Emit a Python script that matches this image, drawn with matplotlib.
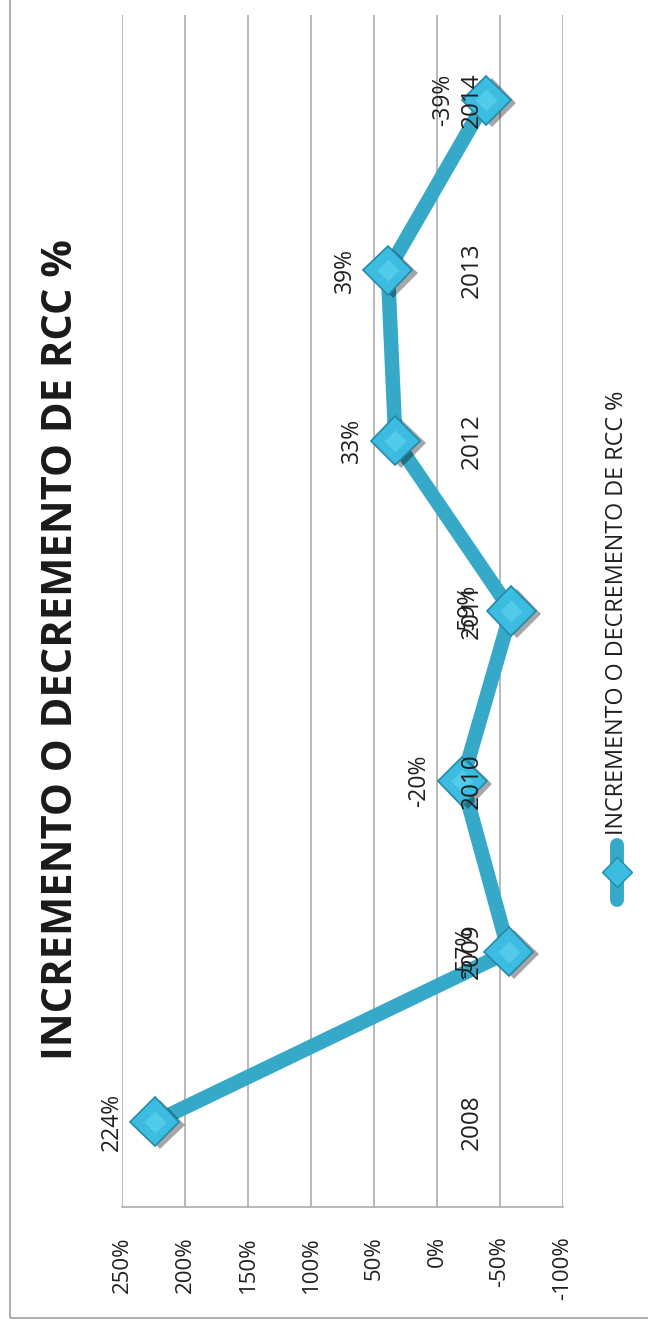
import matplotlib
matplotlib.use("Agg")
import matplotlib.pyplot as plt
import matplotlib.patheffects as pe
from matplotlib.patches import Rectangle
from matplotlib.lines import Line2D

# data
years = ['2008', '2009', '2010', '2011', '2012', '2013', '2014']
values = [224, -57, -20, -59, 33, 39, -39]
ticks = [250, 200, 150, 100, 50, 0, -50, -100]
title = 'INCREMENTO O DECREMENTO DE RCC %'
series_name = 'INCREMENTO O DECREMENTO DE RCC %'

plt.rcParams['font.family'] = ['Open Sans', 'DejaVu Sans']
W, H = 648, 1328
line_col = '#35A9C7'
face_col = '#3CBCE0'
edge_col = '#2589A8'
grid_col = '#A6A6A6'
txt_col = '#1f1f1f'

fig = plt.figure(figsize=(W / 100, H / 100), dpi=100)
fig.patch.set_facecolor('white')

# outer chart frame (runs off the top and right edge)
fig.add_artist(Rectangle((10 / W, (H - 1318) / H), 1, 1, transform=fig.transFigure,
                         fill=False, ec='#A0A0A0', lw=1.2))

# chart is drawn rotated: values along x (reversed), years along y
ax = fig.add_axes([122 / W, (H - 1207) / H, (563 - 122) / W, (1207 - 15) / H])
ypos = list(range(len(years)))
ax.set_xlim(250, -100)
ax.set_ylim(-0.5, len(years) - 0.5)
ax.set_xticks(ticks)
ax.set_xticklabels([f'{t}%' for t in ticks], rotation=90, va='top', fontsize=16, color=txt_col)
ax.tick_params(axis='x', length=0, pad=21)
ax.set_yticks([])
ax.grid(axis='x', color=grid_col, lw=1.1)
ax.set_axisbelow(True)
for s in ['left', 'right', 'top']:
    ax.spines[s].set_visible(False)
ax.spines['bottom'].set_color(grid_col)
ax.spines['bottom'].set_linewidth(1.1)

ax.plot(values, ypos, color=line_col, lw=10.5, solid_capstyle='round', zorder=3)
ax.plot(values, ypos, ls='none', marker='D', ms=25, mfc=face_col, mec=edge_col, mew=1.2, zorder=4,
        path_effects=[pe.SimplePatchShadow(offset=(4, -2), shadow_rgbFace='k', alpha=0.35), pe.Normal()])
ax.plot(values, ypos, ls='none', marker='D', ms=11, mfc='#52CBEA', mec='none', zorder=5)

# category labels next to the 0% line
for y, yr in zip(ypos, years):
    ax.annotate(yr, xy=(0, y), xytext=(25, 0), textcoords='offset points', rotation=90,
                ha='center', va='center', fontsize=17.5, color=txt_col, zorder=6)

# data labels
for y, v in zip(ypos, values):
    ax.annotate(f'{v}%', xy=(v, y), xytext=(-31, 0), textcoords='offset points', rotation=90,
                ha='center', va='center', fontsize=16.5, color=txt_col, zorder=6)

# title
fig.text(62 / W, 1 - 650 / H, title, rotation=90, ha='center', va='center',
         fontsize=30, weight='bold', color='#1a1a1a')

# legend drawn by hand (rotated)
lx = 617 / W
fig.add_artist(Line2D([lx, lx], [1 - 900 / H, 1 - 845 / H], transform=fig.transFigure,
                      color=line_col, lw=10, solid_capstyle='round'))
fig.add_artist(Line2D([lx], [1 - 872 / H], transform=fig.transFigure, marker='D', ms=15,
                      mfc=face_col, mec=edge_col, mew=1))
fig.text(lx, 1 - 835 / H, series_name, rotation=90, ha='center', va='bottom',
         fontsize=16.8, color=txt_col)

fig.savefig('out.png', dpi=100)
